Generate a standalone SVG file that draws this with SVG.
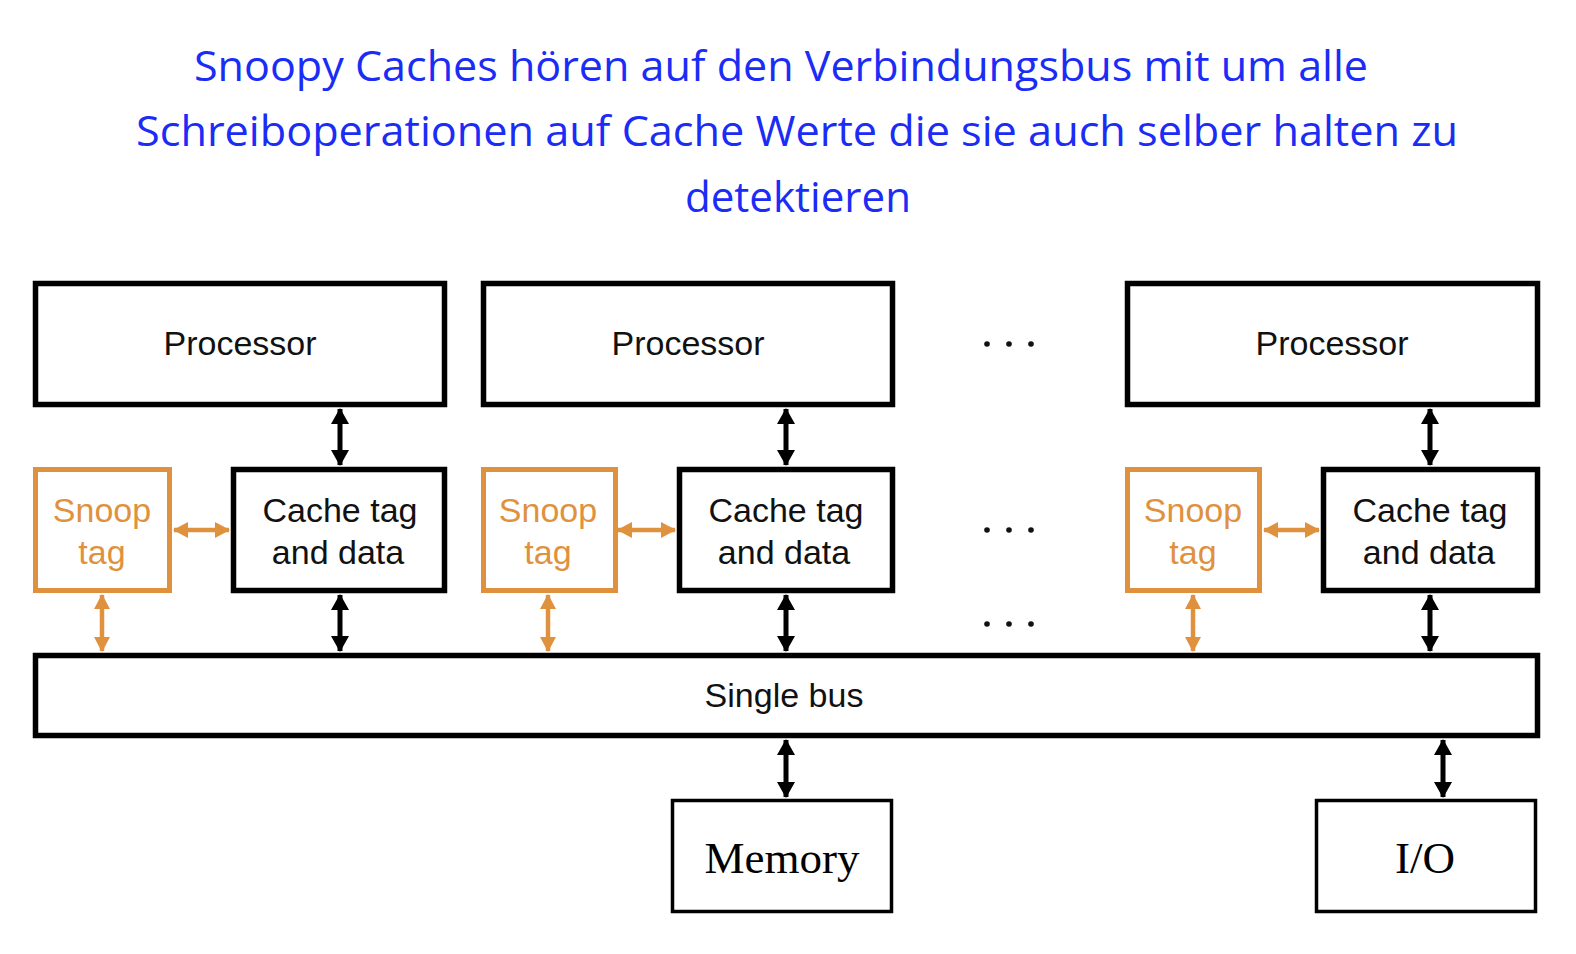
<svg xmlns="http://www.w3.org/2000/svg" width="1576" height="954" viewBox="0 0 1576 954">
<defs>
<style>
.box{fill:#fff;stroke:#000;stroke-width:5.5}
.sbox{fill:#fff;stroke:#E0913E;stroke-width:5}
.thin{fill:#fff;stroke:#000;stroke-width:3.5}
.lbl{font-family:"Liberation Sans",Arial,sans-serif;font-size:34px;fill:#111;text-anchor:middle}
.slbl{font-family:"Liberation Sans",Arial,sans-serif;font-size:34px;fill:#E0913E;text-anchor:middle}
.ser{font-family:"Liberation Serif","Times New Roman",serif;font-size:45px;fill:#000;text-anchor:middle}
.title{font-family:"Open Sans","Liberation Sans",sans-serif;font-size:42px;fill:#1a2cf5;text-anchor:middle}
.blk{stroke:#000;stroke-width:5;fill:none;marker-start:url(#hb);marker-end:url(#hb)}
.org{stroke:#E0913E;stroke-width:4.5;fill:none;marker-start:url(#ho);marker-end:url(#ho)}
.dot{fill:#111}
</style>
<marker id="hb" viewBox="0 0 16 18" refX="15" refY="9" markerWidth="16" markerHeight="18" markerUnits="userSpaceOnUse" orient="auto-start-reverse"><path d="M0,0 L16,9 L0,18 Z" fill="#000"/></marker>
<marker id="ho" viewBox="0 0 15 16" refX="14" refY="8" markerWidth="15" markerHeight="16" markerUnits="userSpaceOnUse" orient="auto-start-reverse"><path d="M0,0 L15,8 L0,16 Z" fill="#E0913E"/></marker>
</defs>
<rect width="1576" height="954" fill="#fff"/>
<g id="title">
<text class="title" x="781" y="81" textLength="1174" lengthAdjust="spacingAndGlyphs">Snoopy Caches hören auf den Verbindungsbus mit um alle</text>
<text class="title" x="797" y="146" textLength="1322" lengthAdjust="spacingAndGlyphs">Schreiboperationen auf Cache Werte die sie auch selber halten zu</text>
<text class="title" x="798" y="212" textLength="226" lengthAdjust="spacingAndGlyphs">detektieren</text>
</g>
<g id="connectors">
<line class="blk" x1="340" y1="409" x2="340" y2="465"/>
<line class="blk" x1="340" y1="595" x2="340" y2="651"/>
<line class="org" x1="102" y1="595" x2="102" y2="651"/>
<line class="org" x1="174" y1="530" x2="229" y2="530"/>
<line class="blk" x1="786" y1="409" x2="786" y2="465"/>
<line class="blk" x1="786" y1="595" x2="786" y2="651"/>
<line class="org" x1="548" y1="595" x2="548" y2="651"/>
<line class="org" x1="618" y1="530" x2="675" y2="530"/>
<line class="blk" x1="1430" y1="409" x2="1430" y2="465"/>
<line class="blk" x1="1430" y1="595" x2="1430" y2="651"/>
<line class="org" x1="1193" y1="595" x2="1193" y2="651"/>
<line class="org" x1="1264" y1="530" x2="1319" y2="530"/>
<line class="blk" x1="786" y1="740" x2="786" y2="797"/>
<line class="blk" x1="1443" y1="740" x2="1443" y2="797"/>
</g>
<g id="proc1"><rect class="box" x="35.5" y="283.5" width="409" height="121"/><text class="lbl" x="240" y="355">Processor</text></g>
<g id="proc2"><rect class="box" x="483.5" y="283.5" width="409" height="121"/><text class="lbl" x="688" y="355">Processor</text></g>
<g id="proc3"><rect class="box" x="1127.5" y="283.5" width="410" height="121"/><text class="lbl" x="1332" y="355">Processor</text></g>
<g id="snoop1"><rect class="sbox" x="35.5" y="469.5" width="134" height="121"/><text class="slbl" x="102" y="522">Snoop</text><text class="slbl" x="102" y="564">tag</text></g>
<g id="cache1"><rect class="box" x="233.5" y="469.5" width="211" height="121"/><text class="lbl" x="340" y="522">Cache tag</text><text class="lbl" x="338" y="564">and data</text></g>
<g id="snoop2"><rect class="sbox" x="483.5" y="469.5" width="132" height="121"/><text class="slbl" x="548" y="522">Snoop</text><text class="slbl" x="548" y="564">tag</text></g>
<g id="cache2"><rect class="box" x="679.5" y="469.5" width="213" height="121"/><text class="lbl" x="786" y="522">Cache tag</text><text class="lbl" x="784" y="564">and data</text></g>
<g id="snoop3"><rect class="sbox" x="1127.5" y="469.5" width="132" height="121"/><text class="slbl" x="1193" y="522">Snoop</text><text class="slbl" x="1193" y="564">tag</text></g>
<g id="cache3"><rect class="box" x="1323.5" y="469.5" width="214" height="121"/><text class="lbl" x="1430" y="522">Cache tag</text><text class="lbl" x="1429" y="564">and data</text></g>
<g id="dots">
<circle class="dot" cx="987" cy="344" r="2.8"/><circle class="dot" cx="1009" cy="344" r="2.8"/><circle class="dot" cx="1031" cy="344" r="2.8"/>
<circle class="dot" cx="987" cy="530" r="2.8"/><circle class="dot" cx="1009" cy="530" r="2.8"/><circle class="dot" cx="1031" cy="530" r="2.8"/>
<circle class="dot" cx="987" cy="624" r="2.8"/><circle class="dot" cx="1009" cy="624" r="2.8"/><circle class="dot" cx="1031" cy="624" r="2.8"/>
</g>
<g id="bus"><rect class="box" x="35.5" y="655.5" width="1502" height="80"/><text class="lbl" x="784" y="707">Single bus</text></g>
<g id="memory"><rect class="thin" x="672.5" y="800.5" width="219" height="111"/><text class="ser" x="782" y="873">Memory</text></g>
<g id="io"><rect class="thin" x="1316.5" y="800.5" width="219" height="111"/><text class="ser" x="1425" y="873">I/O</text></g>
</svg>
